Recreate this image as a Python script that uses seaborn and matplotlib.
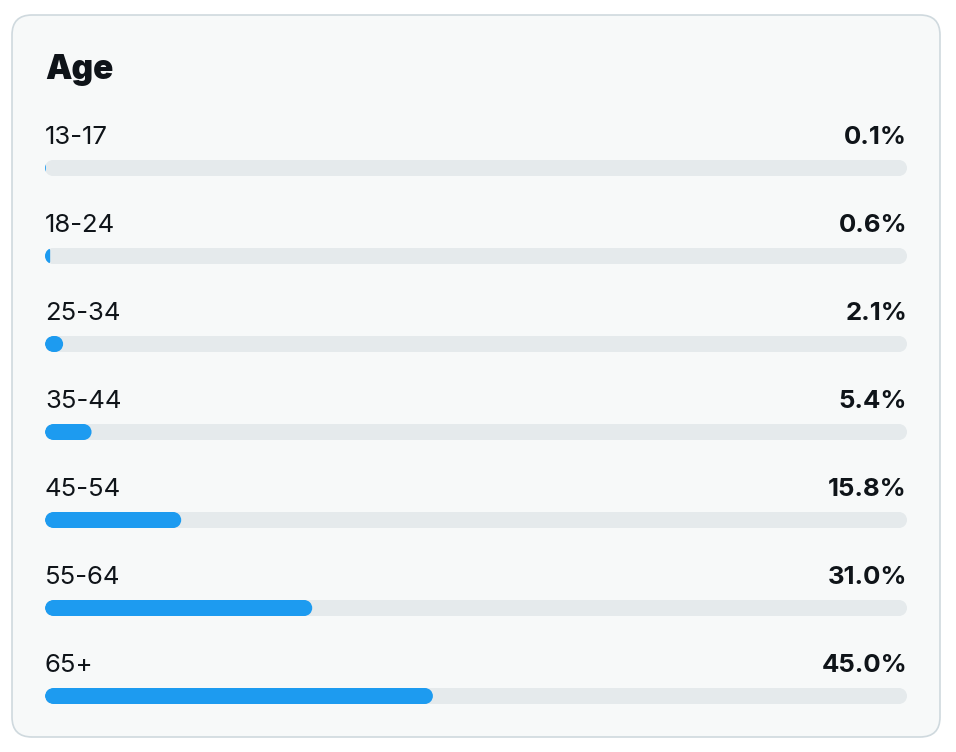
import matplotlib
matplotlib.use("Agg")
import matplotlib.pyplot as plt
import seaborn as sns
import pandas as pd
import numpy as np
from matplotlib.patches import FancyBboxPatch, PathPatch
from matplotlib.path import Path

# ---- data ----
title = "Age"
age_groups = ["13-17", "18-24", "25-34", "35-44", "45-54", "55-64", "65+"]
shares = [0.1, 0.6, 2.1, 5.4, 15.8, 31.0, 45.0]
pct_labels = ["0.1%", "0.6%", "2.1%", "5.4%", "15.8%", "31.0%", "45.0%"]
total = 100.0

# ---- style ----
BLUE = "#1d9bf0"
TRACK = "#e5eaec"
CARD_BG = "#f7f9f9"
CARD_EDGE = "#cfd9de"
TEXT = "#0f1419"

sns.set_theme(style="white")
plt.rcParams["font.family"] = ["Inter", "DejaVu Sans"]

W, H = 956, 752
fig = plt.figure(figsize=(W / 100, H / 100), dpi=100)
fig.patch.set_facecolor("white")

card = FancyBboxPatch((12 / 100, 15 / 100), 928 / 100, 722 / 100,
                      boxstyle="round,pad=0,rounding_size=0.2",
                      transform=fig.dpi_scale_trans,
                      facecolor=CARD_BG, edgecolor=CARD_EDGE, linewidth=1.2,
                      zorder=-10)
fig.add_artist(card)

ax = fig.add_axes([45 / W, 12 / H, 862 / W, 616 / H])
ax.set_facecolor("none")
ax.set_zorder(5)

df = pd.DataFrame({"age": age_groups, "share": shares, "total": [total] * len(shares)})
bar_h = 16 / 88
sns.barplot(data=df, y="age", x="total", color=TRACK, width=bar_h, ax=ax,
            orient="h", saturation=1)
sns.barplot(data=df, y="age", x="share", color=BLUE, width=bar_h, ax=ax,
            orient="h", saturation=1)
ax.set_xlim(0, total)
ax.set_ylim(len(age_groups) - 0.5, -0.5)
ax.axis("off")

px_x = 862 / total
px_y = 88.0
r_px = 8.0

rects = list(ax.patches)
n = len(age_groups)
tracks, fills = rects[:n], rects[n:2 * n]


def pill(rect, color, zorder):
    x, y, w, h = rect.get_x(), rect.get_y(), rect.get_width(), rect.get_height()
    r = min(r_px, w * px_x / 2, h * px_y / 2)
    rx, ry = r / px_x, r / px_y
    corners = [(x + w - rx, y + ry, 270, 360), (x + w - rx, y + h - ry, 0, 90),
               (x + rx, y + h - ry, 90, 180), (x + rx, y + ry, 180, 270)]
    verts, codes = [], []
    for cx, cy, t1, t2 in corners:
        a = Path.arc(t1, t2)
        v = a.vertices * np.array([rx, ry]) + np.array([cx, cy])
        c = a.codes.copy()
        c[0] = Path.LINETO if verts else Path.MOVETO
        verts.extend(v.tolist())
        codes.extend(c.tolist())
    verts.append(verts[0])
    codes.append(Path.CLOSEPOLY)
    p = PathPatch(Path(verts, codes), facecolor=color, edgecolor="none",
                  linewidth=0, zorder=zorder)
    ax.add_patch(p)
    rect.remove()
    return p


track_patches = [pill(t, TRACK, 2) for t in tracks]
for f, tp in zip(fills, track_patches):
    fp = pill(f, BLUE, 3)
    fp.set_clip_path(tp)

for i, (lab, pct) in enumerate(zip(age_groups, pct_labels)):
    yb = i - 24 / 88
    ax.text(0, yb, lab, ha="left", va="baseline", fontsize=18.5, color=TEXT)
    ax.text(total, yb, pct, ha="right", va="baseline", fontsize=18.5,
            color=TEXT, fontweight="bold")

fig.text(45 / W, (H - 79) / H, title, ha="left", va="baseline", fontsize=24,
         fontweight="black", color=TEXT)

fig.savefig("out.png", dpi=100)
